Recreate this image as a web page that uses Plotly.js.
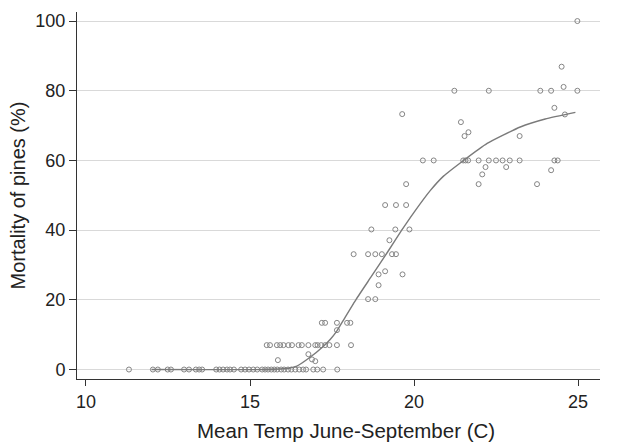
<!DOCTYPE html>
<html>
<head>
<meta charset="utf-8">
<script src="https://cdn.plot.ly/plotly-3.0.1.min.js"></script>
<style>html,body{margin:0;padding:0;background:#fff;}#chart{width:617px;height:444px;}</style>
</head>
<body>
<div id="chart"></div>
<script>
// Observed points: mean temperature (C) and mortality (%)
const tempObs = [
  11.31, 12.04, 12.19, 12.49, 12.59, 12.99, 13.14, 13.35, 13.45, 13.54, 13.97, 14.07, 14.18, 14.30, 14.39, 14.51,
  14.73, 14.85, 14.97, 15.10, 15.22, 15.37, 15.46, 15.55, 15.65, 15.74, 15.83, 15.95, 16.04, 16.16, 16.26, 16.38,
  16.50, 16.62, 16.71, 16.93, 17.05, 17.23, 17.66,
  15.85, 16.78, 16.89, 16.99,
  15.51, 15.61, 15.82, 15.92, 16.02, 16.17, 16.28, 16.48, 16.58, 16.78, 16.99, 17.06, 17.17, 17.29, 17.42, 17.65, 18.08,
  17.19, 17.29, 17.65, 17.96, 18.06, 17.65,
  18.60, 18.82, 18.92, 18.92, 19.12, 19.65,
  18.16, 18.60, 18.82, 19.02, 19.33, 19.45,
  19.25, 18.70, 19.43, 19.86, 19.12, 19.45, 19.76, 19.76, 19.64,
  20.27, 20.60, 21.50, 21.57, 21.65, 21.97, 22.28, 22.50, 22.70, 22.92, 23.22, 24.28, 24.38,
  21.43, 21.54, 21.66, 22.18, 22.08, 21.97, 22.81, 23.22,
  21.23, 22.28, 23.85, 24.18, 24.98,
  23.75, 24.18, 24.28, 24.60, 24.50, 24.56, 24.98
];
const mortObs = [
  0, 0, 0, 0, 0, 0, 0, 0, 0, 0, 0, 0, 0, 0, 0, 0,
  0, 0, 0, 0, 0, 0, 0, 0, 0, 0, 0, 0, 0, 0, 0, 0,
  0, 0, 0, 0, 0, 0, 0,
  2.7, 4.4, 2.9, 2.4,
  7, 7, 7, 7, 7, 7, 7, 7, 7, 7, 7, 7, 7, 7, 7, 7, 7,
  13.4, 13.4, 13.4, 13.4, 13.4, 11.3,
  20.2, 20.2, 24.2, 27.3, 28.2, 27.3,
  33.1, 33.1, 33.1, 33.1, 33.1, 33.1,
  37.1, 40.2, 40.2, 40.2, 47.2, 47.2, 47.2, 53.2, 73.3,
  60, 60, 60, 60, 60, 60, 60, 60, 60, 60, 60, 60, 60,
  71.0, 67.0, 68.1, 58.1, 56.0, 53.2, 58.1, 67.0,
  80, 80, 80, 80, 80,
  53.2, 57.2, 75.1, 73.2, 86.9, 81.1, 100
];
// Fitted curve
const tempFit = [12.0, 15.5, 16.12, 16.43, 16.8, 17.24, 17.45, 17.65, 17.85, 18.24, 18.7, 19.2, 19.62, 20.0, 20.5, 20.9, 21.51, 22.23, 23.24, 24.0, 24.92];
const mortFit = [0, 0, 0.3, 1.0, 3.3, 6.7, 8.7, 11.1, 14.2, 20.2, 26.7, 33.8, 39.9, 45.1, 51.4, 55.5, 60.0, 64.9, 69.6, 71.9, 73.8];

const xTicks = [10, 15, 20, 25];
const yTicks = [0, 20, 40, 60, 80, 100];
const xTitle = 'Mean Temp June-September (C)';
const yTitle = 'Mortality of pines (%)';

const font = 'Liberation Sans, Arial, sans-serif';
const traces = [
  {
    x: tempObs, y: mortObs, type: 'scatter', mode: 'markers',
    marker: {symbol: 'circle-open', size: 5, color: '#858585', line: {width: 1, color: '#858585'}},
    hoverinfo: 'skip', showlegend: false
  },
  {
    x: tempFit, y: mortFit, type: 'scatter', mode: 'lines',
    line: {color: '#7a7a7a', width: 1.4, shape: 'spline', smoothing: 0.5},
    hoverinfo: 'skip', showlegend: false
  }
];
const layout = {
  width: 617, height: 444,
  margin: {l: 77, r: 17, t: 12, b: 65},
  paper_bgcolor: '#ffffff', plot_bgcolor: '#ffffff',
  font: {family: font, color: '#222222', size: 18},
  showlegend: false,
  xaxis: {
    range: [9.726, 25.67], tickvals: xTicks, ticktext: xTicks.map(String),
    showgrid: false, zeroline: false, showline: true, linecolor: '#333333', linewidth: 1,
    ticks: 'outside', ticklen: 6, tickwidth: 1, tickcolor: '#333333',
    tickfont: {family: font, size: 18, color: '#222222'}
  },
  yaxis: {
    range: [-2.72, 102.6], tickvals: yTicks, ticktext: yTicks.map(String),
    showgrid: true, gridcolor: '#d9d9d9', gridwidth: 1, zeroline: false,
    showline: true, linecolor: '#333333', linewidth: 1,
    ticks: 'outside', ticklen: 7, tickwidth: 1, tickcolor: '#333333',
    tickfont: {family: font, size: 18, color: '#222222'},
    title: {text: yTitle, font: {family: font, size: 20, color: '#222222'}, standoff: 4}
  },
  annotations: [{
    text: xTitle, xref: 'paper', yref: 'paper', x: 0.515, y: -0.140,
    xanchor: 'center', yanchor: 'middle', showarrow: false, borderpad: 0,
    font: {family: font, size: 20.5, color: '#222222'}
  }]
};
Plotly.newPlot('chart', traces, layout, {displayModeBar: false, staticPlot: true});
</script>
</body>
</html>
